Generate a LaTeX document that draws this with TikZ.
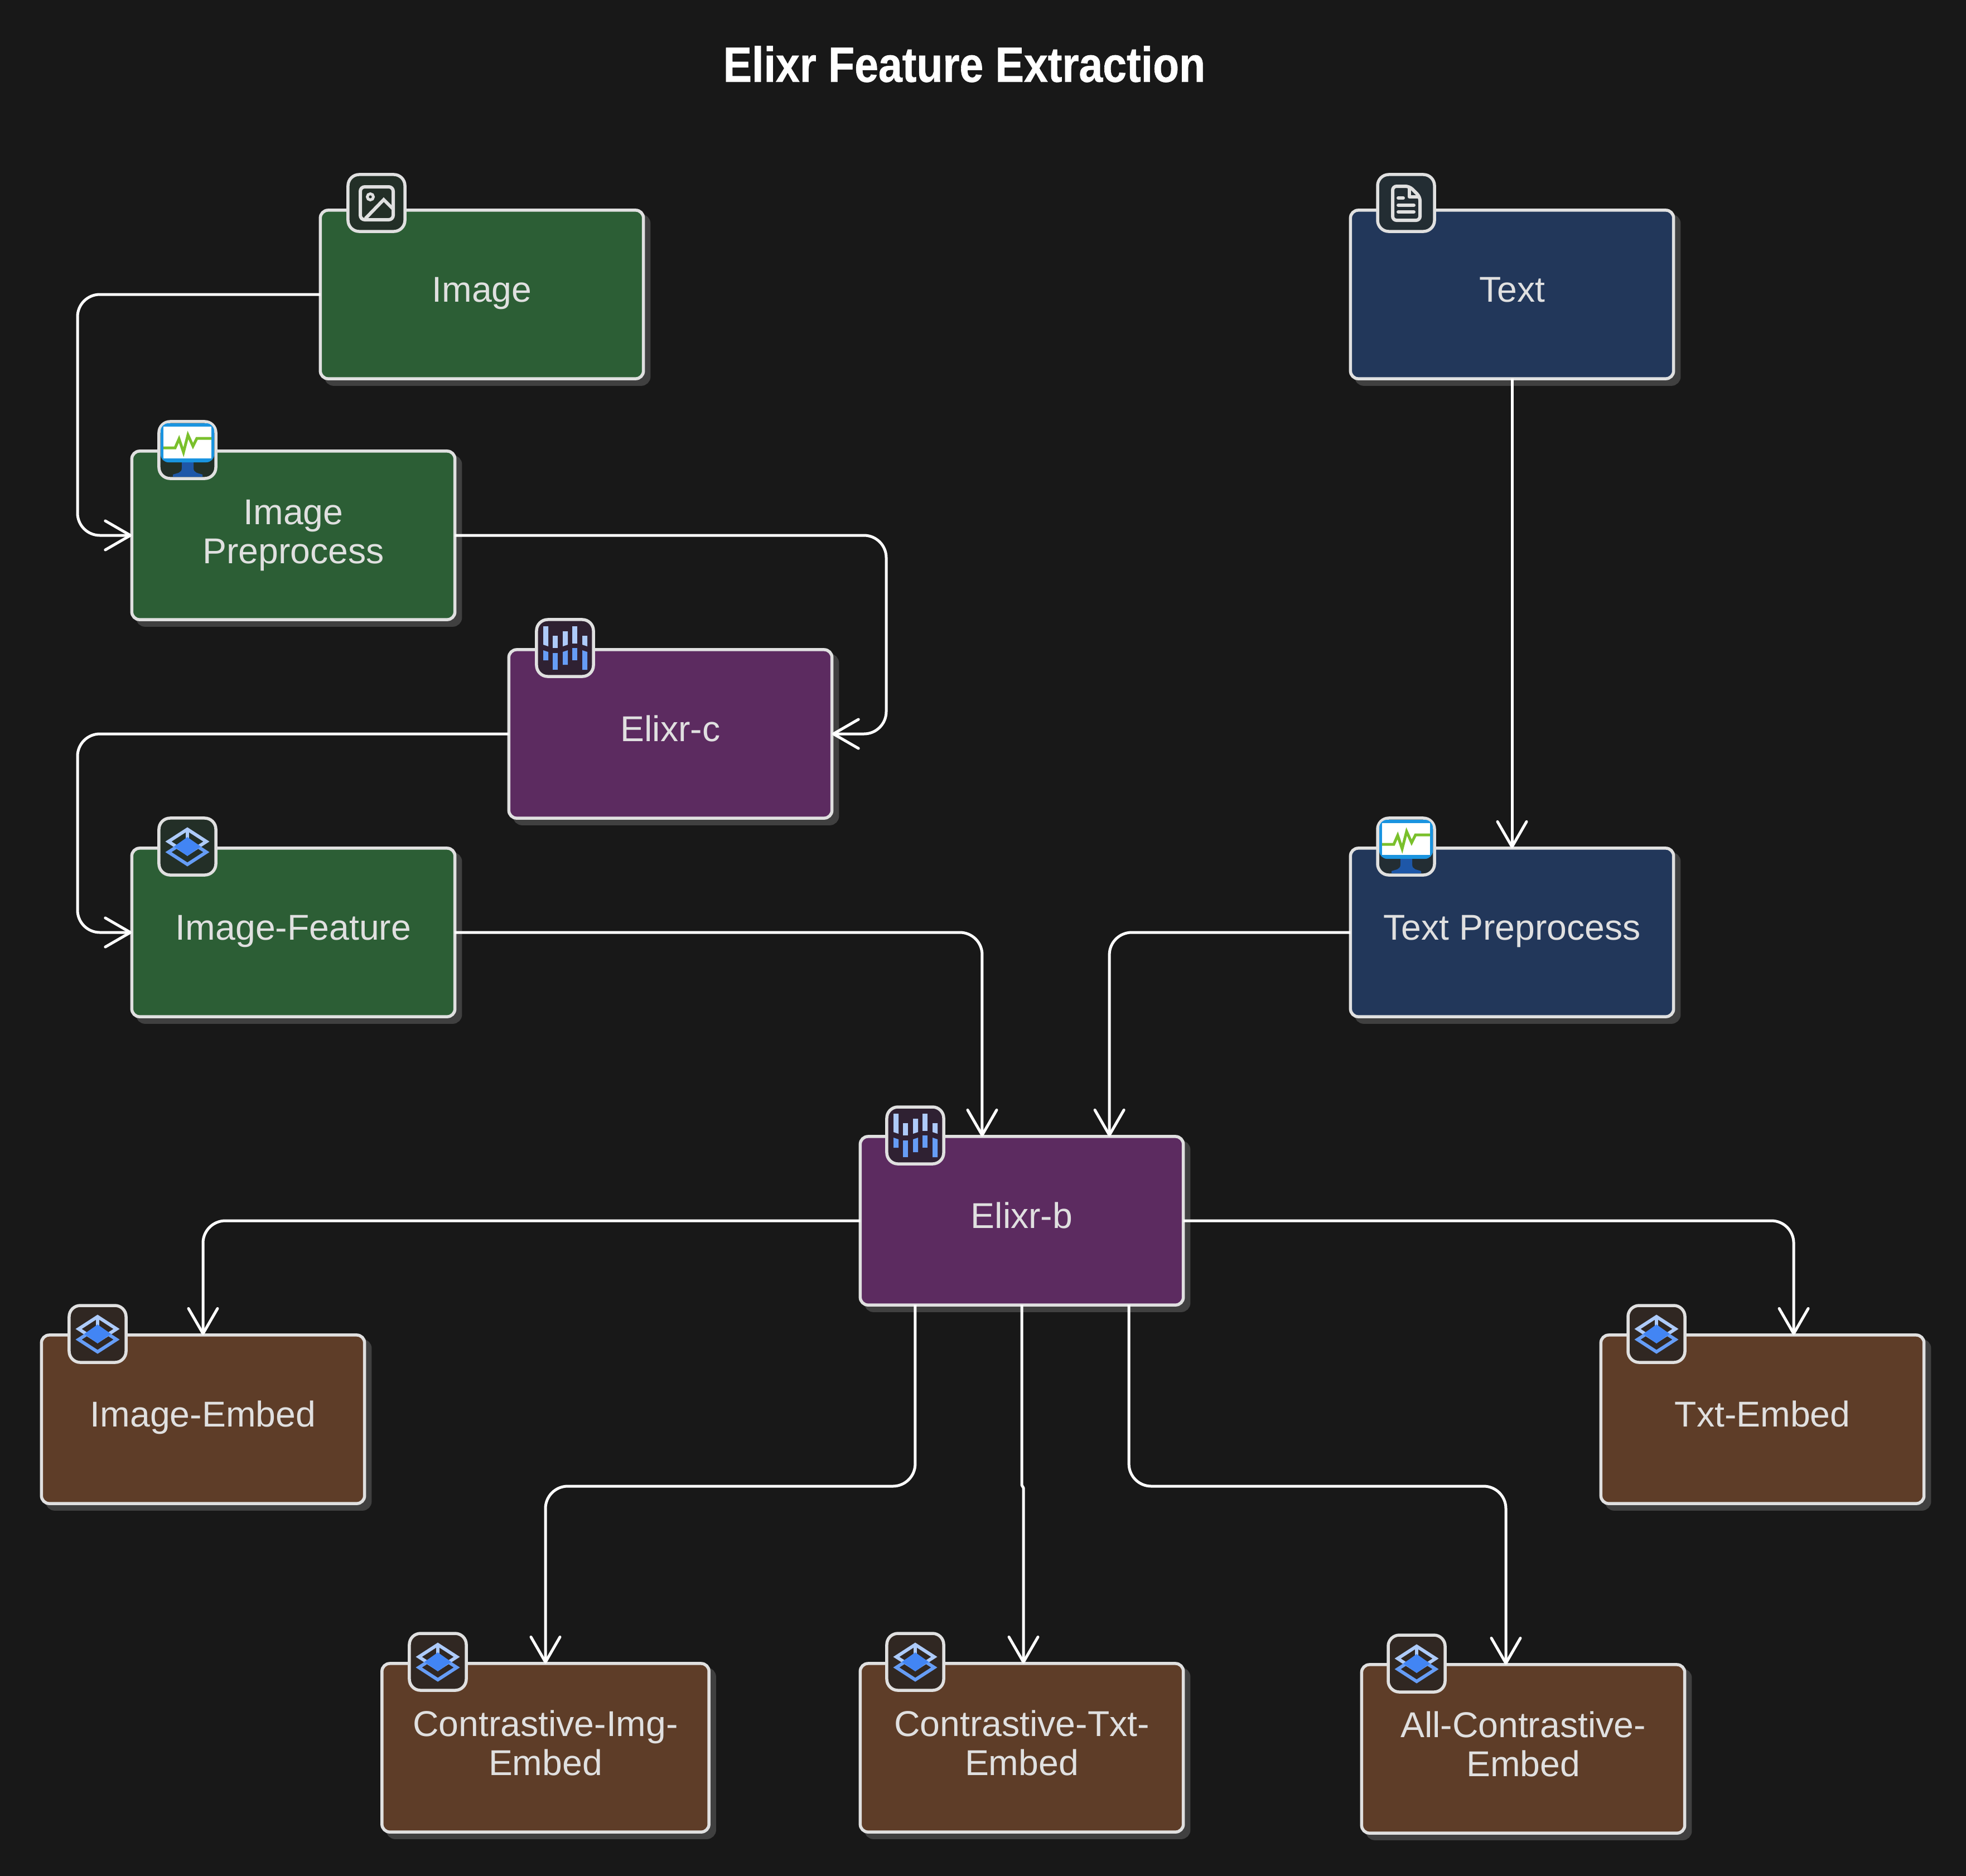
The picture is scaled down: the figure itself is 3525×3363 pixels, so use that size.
\documentclass[tikz,border=0pt]{standalone}
\usepackage{fontspec}
\setmainfont{Liberation Sans}
\usetikzlibrary{arrows.meta,shadows}

\definecolor{pagebg}{HTML}{181818}
\definecolor{boxline}{HTML}{E0E0E0}
\definecolor{boxshadow}{HTML}{404040}
\definecolor{inputgreen}{HTML}{2C5E35}
\definecolor{inputblue}{HTML}{22375A}
\definecolor{modelpurple}{HTML}{5C2B60}
\definecolor{embedbrown}{HTML}{5E3D28}
\definecolor{icongreen}{HTML}{232F27}
\definecolor{iconblue}{HTML}{232D33}
\definecolor{iconpurple}{HTML}{2F2132}
\definecolor{iconbrown}{HTML}{302722}
\definecolor{barlight}{HTML}{AECBFA}
\definecolor{barmid}{HTML}{669DF6}
\definecolor{barstrong}{HTML}{4285F4}
\definecolor{screenblue}{HTML}{1A94E0}
\definecolor{standblue}{HTML}{1E57A8}
\definecolor{pulsegreen}{HTML}{7AC02C}

\tikzset{
  stagebox/.style={draw=boxline,line width=0.055cm,rounded corners=0.14cm,outer sep=0pt,
    minimum width=5.79cm,minimum height=3.02cm,align=center,text=boxline,font=\fontsize{18.3}{20}\selectfont,
    copy shadow={shadow xshift=0.1cm,shadow yshift=-0.1cm,draw=boxshadow,fill=boxshadow}},
  oneline/.style={text height=0.49cm,text depth=0.22cm},
  twoline/.style={text depth=0.18cm},
  iconbox/.style={draw=boxline,line width=0.055cm,rounded corners=0.2cm,outer sep=0pt,
    minimum size=1.02cm,inner sep=0pt},
  connection/.style={-{Straight Barb[length=0.45cm,width=0.52cm,line width=0.05cm,round]},
    draw=white,line width=0.05cm,rounded corners=0.4cm},
  pics/imageglyph/.style={code={
    \draw[boxline,line width=0.06cm,rounded corners=0.08cm] (-29,-29) rectangle (30,30);
    \draw[boxline,line width=0.05cm] (-11,-11) circle (0.055cm);
    \draw[boxline,line width=0.06cm] (-20,28) -- (13,-6) -- (31,12);
  }},
  pics/docglyph/.style={code={
    \draw[boxline,line width=0.06cm,rounded corners=0.07cm] (6,-30) -- (-24,-30) -- (-24,31) -- (25,31) -- (25,-11) -- cycle;
    \draw[boxline,line width=0.06cm,line join=round] (6,-30) -- (6,-11) -- (25,-11);
    \draw[boxline,line width=0.06cm,line cap=round] (-14,-9) -- (-5,-9);
    \draw[boxline,line width=0.06cm,line cap=round] (-14,4) -- (14,4);
    \draw[boxline,line width=0.06cm,line cap=round] (-14,16) -- (14,16);
  }},
  pics/monitorglyph/.style={code={
    \fill[standblue] (-10,20) -- (11,20) -- (11,32) .. controls (11,42) and (20,41) .. (27,44) -- (27,48) -- (-26,48) -- (-26,44) .. controls (-19,41) and (-10,42) .. (-10,32) -- cycle;
    \fill[screenblue,rounded corners=0.14cm] (-48,22) -- (-48,-48) -- (48,-48) -- (48,22) -- cycle;
    \fill[white] (-43,-42) rectangle (43,15);
    \draw[pulsegreen,line width=0.05cm] (-43,-4) -- (-22,-4) -- (-15,-20) -- (-7,4) -- (1,-27) -- (10,-7) -- (17,-21) -- (43,-21);
  }},
  pics/barsglyph/.style={code={
    \fill[barlight] (-39,-39) -- (-30,-39) -- (-30,-3) -- (-39,-6) -- cycle;
    \fill[barlight] (-22,-22) -- (-13,-22) -- (-13,0) -- (-22,0) -- cycle;
    \fill[barlight] (-4,-30) -- (5,-30) -- (5,-6) -- (-4,-3) -- cycle;
    \fill[barlight] (13,-39) -- (22,-39) -- (22,-8) -- (13,-8) -- cycle;
    \fill[barlight] (31,-22) -- (40,-22) -- (40,-3) -- (31,-6) -- cycle;
    \fill[barmid] (-39,4) -- (-30,7) -- (-30,22) -- (-39,22) -- cycle;
    \fill[barmid] (-22,9) -- (-13,9) -- (-13,39) -- (-22,39) -- cycle;
    \fill[barmid] (-4,7) -- (5,4) -- (5,30) -- (-4,30) -- cycle;
    \fill[barmid] (13,0) -- (22,0) -- (22,22) -- (13,22) -- cycle;
    \fill[barmid] (31,4) -- (40,7) -- (40,39) -- (31,39) -- cycle;
  }},
  pics/layersglyph/.style={code={
    \draw[barlight,line width=0.06cm] (-34,-9) -- (0,-31) -- (34,-9) -- (0,13) -- cycle;
    \draw[barlight,line width=0.06cm] (0,-31) -- (0,-9);
    \draw[barmid,line width=0.06cm] (-34,10) -- (0,-12) -- (34,10) -- (0,32) -- cycle;
    \fill[barstrong] (-24,0) -- (0,-17) -- (24,0) -- (0,17) -- cycle;
  }}
}

\begin{document}
\begin{tikzpicture}[x=0.01cm,y=-0.01cm]
  \useasboundingbox (0,0) rectangle (3525,3363);
  \fill[pagebg] (-5,-5) rectangle (3530,3368);

  \node[font=\bfseries\fontsize{21.9}{24}\selectfont,text=white] (title) at (1729,115)
    {\scalebox{1}[1.15]{\addfontfeature{FakeBold=0.8}Elixr Feature Extraction}};

  % input side
  \node[stagebox,oneline,fill=inputgreen] (image) at (864,528) {Image};
  \node[stagebox,fill=inputgreen] (imageprep) at (526,960) {Image\\Preprocess};
  \node[stagebox,oneline,fill=modelpurple] (elixrc) at (1202,1316) {Elixr-c};
  \node[stagebox,oneline,fill=inputgreen] (imagefeat) at (526,1672) {Image-Feature};
  \node[stagebox,oneline,fill=inputblue] (text) at (2711,528) {Text};
  \node[stagebox,oneline,fill=inputblue] (textprep) at (2711,1672) {Text Preprocess};
  \node[stagebox,oneline,fill=modelpurple] (elixrb) at (1832,2189) {Elixr-b};

  % embeddings
  \node[stagebox,oneline,fill=embedbrown] (imageembed) at (364,2545) {Image-Embed};
  \node[stagebox,oneline,fill=embedbrown] (txtembed) at (3160,2545) {Txt-Embed};
  \node[stagebox,twoline,fill=embedbrown,minimum width=5.86cm] (contrimg) at (978,3134) {Contrastive-Img-\\Embed};
  \node[stagebox,twoline,fill=embedbrown] (contrtxt) at (1832,3134) {Contrastive-Txt-\\Embed};
  \node[stagebox,twoline,fill=embedbrown] (allcontr) at (2731,3136) {All-Contrastive-\\Embed};

  \coordinate (railleft) at (139,0);
  \coordinate (railright) at (1589,0);
  \coordinate (lowbus) at (0,2665);
  \coordinate (jogtop) at (0,2663);
  \coordinate (jogend) at (0,2668);

  \draw[connection] (image.west) -- (railleft |- image.west) -- (railleft |- imageprep.west) -- (imageprep.west);
  \draw[connection] (imageprep.east) -- (railright |- imageprep.east) -- (railright |- elixrc.east) -- (elixrc.east);
  \draw[connection] (elixrc.west) -- (railleft |- elixrc.west) -- (railleft |- imagefeat.west) -- (imagefeat.west);
  \draw[connection] (text.south) -- (textprep.north);
  \draw[connection] (imagefeat.east) -| ([xshift=-0.71cm]elixrb.north);
  \draw[connection] (textprep.west) -| ([xshift=1.57cm]elixrb.north);
  \draw[connection] (elixrb.west) -| (imageembed.north);
  \draw[connection] (elixrb.east) -| ([xshift=0.56cm]txtembed.north);
  \draw[connection] ([xshift=-1.91cm]elixrb.south) -- ([xshift=-1.91cm]elixrb.south |- lowbus) -- (contrimg.north |- lowbus) -- (contrimg.north);
  \draw[connection,sharp corners,line join=round] (elixrb.south) -- (elixrb.south |- jogtop) -- ([xshift=0.03cm]contrtxt.north |- jogend) -- ([xshift=0.03cm]contrtxt.north);
  \draw[connection] ([xshift=1.92cm]elixrb.south) -- ([xshift=1.92cm]elixrb.south |- lowbus) -- ([xshift=-0.31cm]allcontr.north |- lowbus) -- ([xshift=-0.31cm]allcontr.north);

  % icons
  \node[iconbox,fill=icongreen] (iconimage) at (675,364) {};
  \pic at (iconimage.center) {imageglyph};
  \node[iconbox,fill=iconblue] (icontext) at (2521,364) {};
  \pic at (icontext.center) {docglyph};
  \node[iconbox,fill=icongreen] (iconimageprep) at (336,807) {};
  \pic at (iconimageprep.center) {monitorglyph};
  \node[iconbox,fill=iconblue] (icontextprep) at (2521,1518) {};
  \pic at (icontextprep.center) {monitorglyph};
  \node[iconbox,fill=iconpurple] (iconelixrc) at (1013,1162) {};
  \pic at (iconelixrc.center) {barsglyph};
  \node[iconbox,fill=iconpurple] (iconelixrb) at (1641,2036) {};
  \pic at (iconelixrb.center) {barsglyph};
  \node[iconbox,fill=icongreen] (iconimagefeat) at (336,1518) {};
  \pic at (iconimagefeat.center) {layersglyph};
  \node[iconbox,fill=iconbrown] (iconimageembed) at (175,2392) {};
  \pic at (iconimageembed.center) {layersglyph};
  \node[iconbox,fill=iconbrown] (icontxtembed) at (2970,2392) {};
  \pic at (icontxtembed.center) {layersglyph};
  \node[iconbox,fill=iconbrown] (iconcontrimg) at (785,2980) {};
  \pic at (iconcontrimg.center) {layersglyph};
  \node[iconbox,fill=iconbrown] (iconcontrtxt) at (1641,2980) {};
  \pic at (iconcontrtxt.center) {layersglyph};
  \node[iconbox,fill=iconbrown] (iconallcontr) at (2540,2983) {};
  \pic at (iconallcontr.center) {layersglyph};
\end{tikzpicture}
\end{document}
